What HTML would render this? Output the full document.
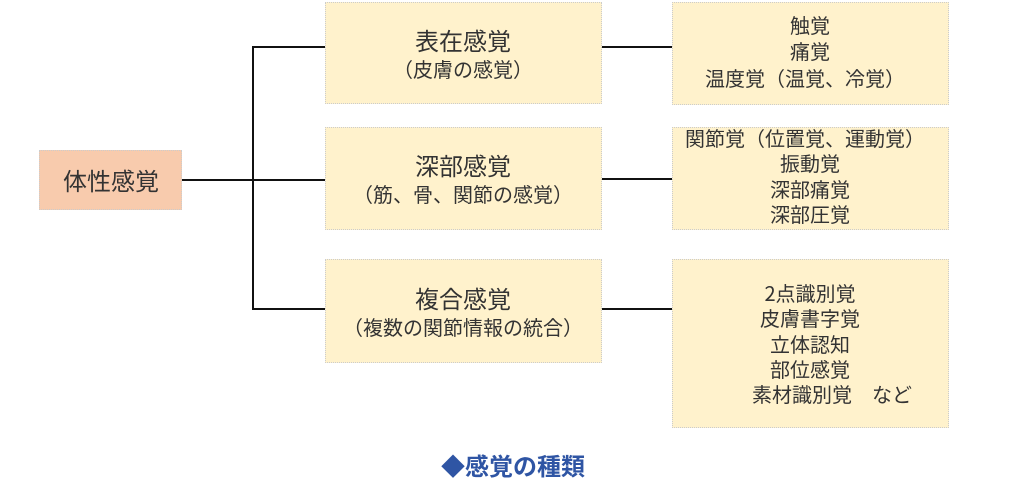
<!DOCTYPE html>
<html><head><meta charset="utf-8"><style>
body{margin:0;width:1024px;height:495px;background:#fff;position:relative;overflow:hidden;font-family:"Noto Sans CJK JP",sans-serif;color:#333;}
.b{position:absolute;background:#fff2cc;box-sizing:border-box;border:1px dotted #ccc;}
.t{position:absolute;white-space:nowrap;transform:translate(-50%,-50%);line-height:1;}
.l{position:absolute;background:#111;}
</style></head><body>
<div class="b" style="left:39px;top:150px;width:143px;height:60px;background:#f8cbad;"></div>
<div class="b" style="left:325px;top:2px;width:277px;height:102px;"></div>
<div class="b" style="left:325px;top:127px;width:277px;height:103px;"></div>
<div class="b" style="left:325px;top:259px;width:277px;height:104px;"></div>
<div class="b" style="left:672px;top:2px;width:277px;height:103px;"></div>
<div class="b" style="left:672px;top:127px;width:277px;height:103px;"></div>
<div class="b" style="left:672px;top:259px;width:277px;height:169px;"></div>

<div class="l" style="left:182px;top:179px;width:143px;height:2px;"></div>
<div class="l" style="left:252px;top:46px;width:2px;height:264px;"></div>
<div class="l" style="left:252px;top:46px;width:73px;height:2px;"></div>
<div class="l" style="left:252px;top:308px;width:73px;height:2px;"></div>
<div class="l" style="left:602px;top:46px;width:70px;height:2px;"></div>
<div class="l" style="left:602px;top:178px;width:70px;height:2px;"></div>
<div class="l" style="left:602px;top:308px;width:70px;height:2px;"></div>

<div class="t" style="left:111px;top:180px;font-size:24px;">体性感覚</div>

<div class="t" style="left:463px;top:40px;font-size:24px;">表在感覚</div>
<div class="t" style="left:463px;top:69px;font-size:20px;">（皮膚の感覚）</div>
<div class="t" style="left:463px;top:165px;font-size:24px;">深部感覚</div>
<div class="t" style="left:463px;top:194px;font-size:20px;">（筋、骨、関節の感覚）</div>
<div class="t" style="left:463px;top:298px;font-size:24px;">複合感覚</div>
<div class="t" style="left:463px;top:327px;font-size:20px;">（複数の関節情報の統合）</div>

<div class="t" style="left:810px;top:25px;font-size:20px;">触覚</div>
<div class="t" style="left:810px;top:51px;font-size:20px;">痛覚</div>
<div class="t" style="left:805px;top:78px;font-size:20px;">温度覚（温覚、冷覚）</div>

<div class="t" style="left:805px;top:138px;font-size:20px;">関節覚（位置覚、運動覚）</div>
<div class="t" style="left:810px;top:163px;font-size:20px;">振動覚</div>
<div class="t" style="left:810px;top:189px;font-size:20px;">深部痛覚</div>
<div class="t" style="left:810px;top:214px;font-size:20px;">深部圧覚</div>

<div class="t" style="left:810px;top:293px;font-size:20px;">2点識別覚</div>
<div class="t" style="left:810px;top:318px;font-size:20px;">皮膚書字覚</div>
<div class="t" style="left:810px;top:344px;font-size:20px;">立体認知</div>
<div class="t" style="left:810px;top:369px;font-size:20px;">部位感覚</div>
<div class="t" style="left:832px;top:394px;font-size:20px;">素材識別覚　など</div>

<div class="t" style="left:513px;top:465px;font-size:24px;font-weight:bold;color:#2f55a4;">◆感覚の種類</div>
</body></html>
